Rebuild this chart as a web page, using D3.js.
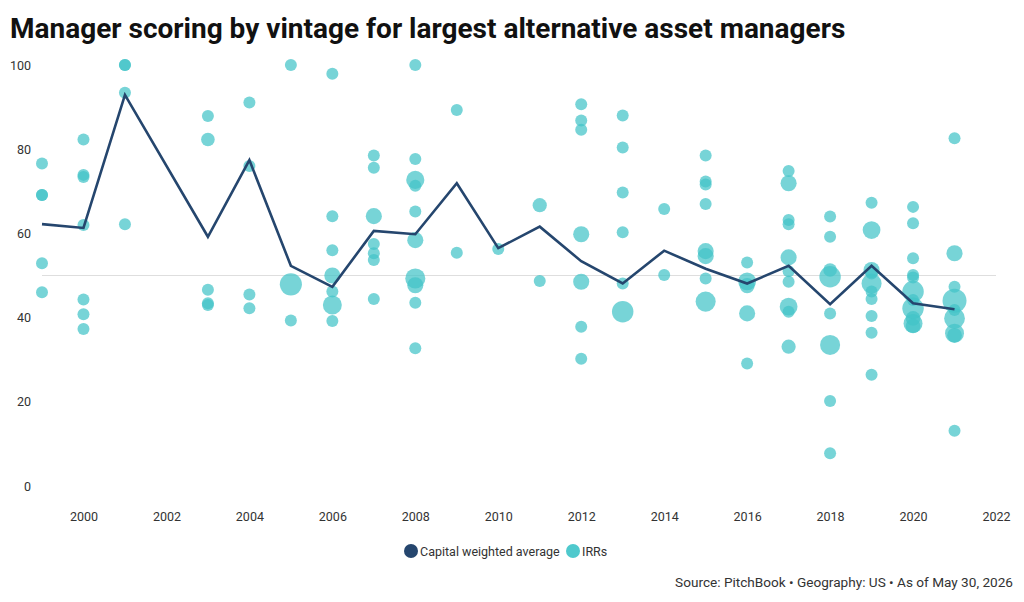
<!DOCTYPE html>
<html>
<head>
<meta charset="utf-8">
<script src="https://cdn.jsdelivr.net/npm/d3@7"></script>
<style>
  body { margin: 0; background: #fff; }
  svg { display: block; font-family: Roboto, "Noto Sans", sans-serif; }
</style>
</head>
<body>
<script>
// capital weighted average per vintage (2002 has no value)
var avgVintage = [1999, 2000, 2001, 2003, 2004, 2005, 2006, 2007, 2008, 2009, 2010,
                  2011, 2012, 2013, 2014, 2015, 2016, 2017, 2018, 2019, 2020, 2021];
var avgScore = [62.2, 61.3, 92.9, 59.2, 77.4, 52.3, 47.3, 60.6, 59.8, 71.9, 56.5,
                61.6, 53.4, 48.1, 55.9, 51.6, 48.1, 52.3, 43.2, 52.3, 43.4, 42.0];

// individual manager IRR scores
var irrVintage = [
  1999, 1999, 1999, 1999, 1999,
  2000, 2000, 2000, 2000, 2000, 2000, 2000,
  2001, 2001, 2001, 2001,
  2003, 2003, 2003, 2003, 2003,
  2004, 2004, 2004, 2004,
  2005, 2005, 2005,
  2006, 2006, 2006, 2006, 2006, 2006, 2006,
  2007, 2007, 2007, 2007, 2007, 2007, 2007,
  2008, 2008, 2008, 2008, 2008, 2008, 2008, 2008, 2008, 2008,
  2009, 2009,
  2010,
  2011, 2011,
  2012, 2012, 2012, 2012, 2012, 2012, 2012,
  2013, 2013, 2013, 2013, 2013, 2013,
  2014, 2014,
  2015, 2015, 2015, 2015, 2015, 2015, 2015, 2015,
  2016, 2016, 2016, 2016, 2016,
  2017, 2017, 2017, 2017, 2017, 2017, 2017, 2017, 2017, 2017,
  2018, 2018, 2018, 2018, 2018, 2018, 2018, 2018,
  2019, 2019, 2019, 2019, 2019, 2019, 2019, 2019, 2019, 2019,
  2020, 2020, 2020, 2020, 2020, 2020, 2020, 2020, 2020, 2020, 2020,
  2021, 2021, 2021, 2021, 2021, 2021, 2021, 2021, 2021
];
var irrScore = [
  76.6, 69.1, 69.1, 52.9, 46.0,
  82.3, 73.9, 73.4, 62.0, 44.3, 40.8, 37.3,
  100, 100, 93.4, 62.2,
  87.9, 82.3, 46.6, 43.4, 43.0,
  91.1, 76.0, 45.5, 42.2,
  100, 47.9, 39.3,
  97.9, 64.1, 56.0, 50.0, 46.2, 43.0, 39.2,
  78.5, 75.6, 64.1, 57.5, 55.3, 53.7, 44.4,
  100, 77.7, 72.7, 71.3, 65.2, 58.4, 49.3, 47.7, 43.5, 32.7,
  89.3, 55.4,
  56.3,
  66.7, 48.7,
  90.7, 86.8, 84.6, 59.8, 48.5, 37.8, 30.2,
  88.0, 80.4, 69.7, 60.3, 48.1, 41.4,
  65.8, 50.1,
  78.5, 72.3, 71.6, 67.0, 55.8, 54.6, 49.3, 43.8,
  53.1, 48.6, 47.6, 41.0, 29.1,
  74.8, 71.9, 63.2, 62.2, 54.3, 51.0, 48.5, 42.6, 41.4, 33.1,
  64.0, 59.2, 51.3, 49.7, 41.0, 33.5, 20.2, 7.8,
  67.3, 60.8, 51.3, 50.5, 48.1, 46.2, 44.4, 40.4, 36.4, 26.4,
  66.3, 62.4, 54.1, 50.1, 49.5, 46.2, 44.2, 42.2, 39.8, 38.6, 38.0,
  82.6, 55.3, 47.3, 44.0, 41.8, 39.8, 36.3, 35.8, 13.1
];
// capital committed, drives the bubble size
var irrCapital = [
  1, 1, 1, 1, 1,
  1, 1, 1, 1, 1, 1, 1,
  1, 1, 1, 1,
  1, 1.3, 1, 1, 1,
  1, 1, 1, 1,
  1, 3.4, 1,
  1, 1, 1, 1.8, 1, 2.5, 1,
  1, 1, 1.8, 1, 1, 1, 1,
  1, 1, 2.3, 1, 1, 1.8, 2.8, 1.8, 1, 1,
  1, 1,
  1,
  1.4, 1,
  1, 1, 1, 1.8, 1.8, 1, 1,
  1, 1, 1, 1, 1, 3.2,
  1, 1,
  1, 1, 1, 1, 1.8, 1.8, 1, 2.8,
  1, 2.2, 1.6, 1.8, 1,
  1, 1.8, 1, 1, 1.8, 1, 1, 2.2, 1, 1.4,
  1, 1, 1.3, 3.2, 1, 2.8, 1, 1,
  1, 2.2, 1.8, 1, 2.8, 1, 1, 1, 1, 1,
  1, 1, 1, 1, 1, 3.2, 1, 3.2, 1.5, 2.5, 1.5,
  1, 1.8, 1, 4, 1, 3, 2.5, 1.5, 1
];

var yTicks = [0, 20, 40, 60, 80, 100];
var xTicks = [2000, 2002, 2004, 2006, 2008, 2010, 2012, 2014, 2016, 2018, 2020, 2022];
var refValue = 50;

var width = 1024,
    height = 602,
    lineColor = "#25466e",
    dotColor = "#42c3c8";

var x = d3.scaleLinear().domain([1999, 2022]).range([42, 996]),
    y = d3.scaleLinear().domain([0, 100]).range([486, 65]),
    r = d3.scaleSqrt().domain([0, 4]).range([0, 12]);

var figure = d3.select("body")
    .append("svg")
        .attr("width", width)
        .attr("height", height);

// title
figure.append("text")
    .attr("x", 10)
    .attr("y", 38)
    .attr("font-size", 28)
    .attr("font-weight", 700)
    .attr("fill", "#111")
    .text("Manager scoring by vintage for largest alternative asset managers");

// axes, no domain or tick lines
var yAxis = figure.append("g")
    .attr("transform", "translate(33,0)")
    .call(d3.axisLeft(y).tickValues(yTicks).tickSize(0).tickPadding(2));

var xAxis = figure.append("g")
    .attr("transform", "translate(0,510)")
    .call(d3.axisBottom(x).tickValues(xTicks).tickSize(0).tickPadding(2).tickFormat(d3.format("d")));

[yAxis, xAxis].forEach(function(a) {
    a.select(".domain").remove();
    a.selectAll("text")
        .attr("font-family", "Roboto, sans-serif")
        .attr("font-size", 12.5)
        .attr("fill", "#333");
});

// reference line at 50
figure.append("line")
    .attr("x1", x(1999))
    .attr("x2", x(2022))
    .attr("y1", y(refValue))
    .attr("y2", y(refValue))
    .attr("stroke", "#dedede")
    .attr("stroke-width", 1.2);

// IRR bubbles
var dots = irrVintage.map(function(v, i) {
    return { vintage: v, score: irrScore[i], capital: irrCapital[i] };
});

figure.append("g")
    .attr("class", "circles")
    .selectAll("circle")
    .data(dots)
    .enter()
    .append("circle")
    .attr("cx", function(d) { return x(d.vintage); })
    .attr("cy", function(d) { return y(d.score); })
    .attr("r", function(d) { return r(d.capital); })
    .attr("fill", dotColor)
    .attr("fill-opacity", 0.72);

// capital weighted average line
var avg = avgVintage.map(function(v, i) { return { vintage: v, score: avgScore[i] }; });

figure.append("path")
    .datum(avg)
    .attr("fill", "none")
    .attr("stroke", lineColor)
    .attr("stroke-width", 2.6)
    .attr("stroke-linejoin", "miter")
    .attr("d", d3.line()
        .x(function(d) { return x(d.vintage); })
        .y(function(d) { return y(d.score); }));

// legend
var legend = figure.append("g")
    .attr("transform", "translate(411,551)");

legend.append("circle").attr("r", 7).attr("fill", lineColor);
legend.append("text")
    .attr("x", 9).attr("y", 4.5)
    .attr("font-size", 12.5).attr("fill", "#333")
    .text("Capital weighted average");
legend.append("circle").attr("cx", 162).attr("r", 7).attr("fill", "#4fc9cd");
legend.append("text")
    .attr("x", 171).attr("y", 4.5)
    .attr("font-size", 12.5).attr("fill", "#333")
    .text("IRRs");

// source note
figure.append("text")
    .attr("x", 1013)
    .attr("y", 587)
    .attr("text-anchor", "end")
    .attr("font-size", 13.6)
    .attr("fill", "#333")
    .text("Source: PitchBook \u2022 Geography: US \u2022 As of May 30, 2026");
</script>
</body>
</html>
